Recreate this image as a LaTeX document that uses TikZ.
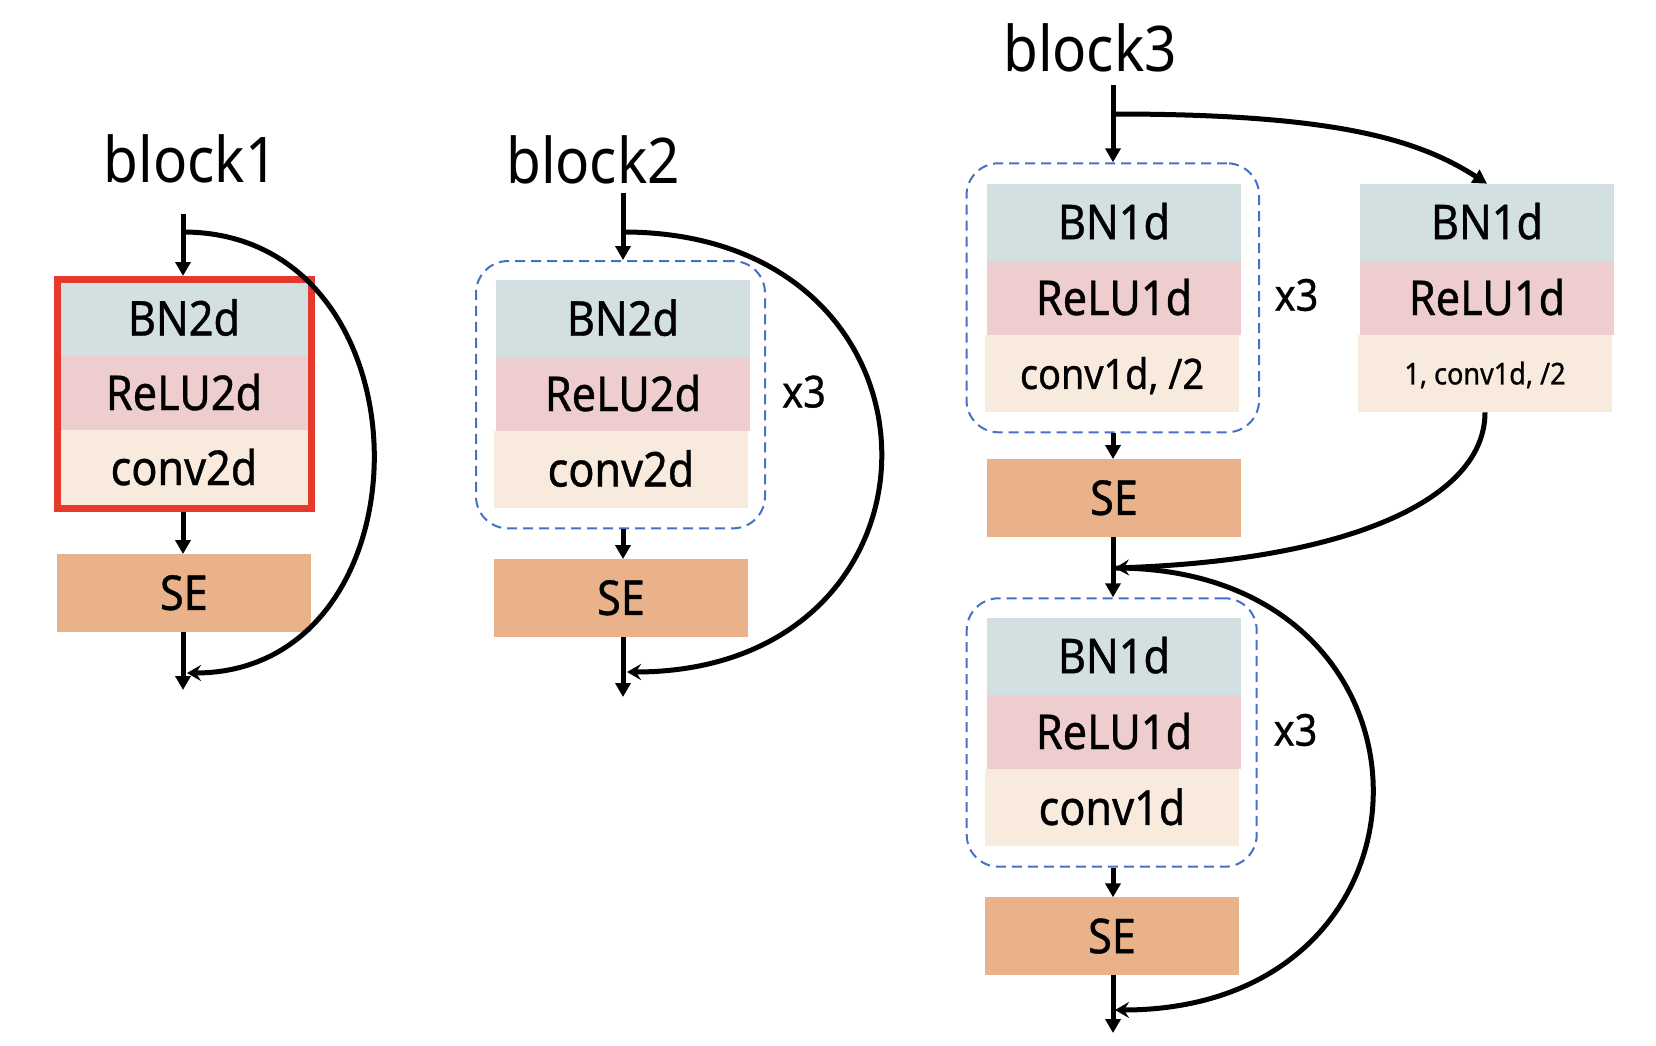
\documentclass[tikz,border=0pt]{standalone}
\usepackage{fontspec}
\setmainfont{Noto Sans}[FakeStretch=0.9]
\newfontfamily\cellfont{Noto Sans}[FakeStretch=0.9,FakeBold=0.8]
\usetikzlibrary{arrows.meta}
\definecolor{bncol}{RGB}{211,224,226}
\definecolor{relucol}{RGB}{237,205,205}
\definecolor{convcol}{RGB}{249,234,222}
\definecolor{secol}{RGB}{234,178,138}
\definecolor{dashblue}{RGB}{68,114,196}
\definecolor{framered}{RGB}{229,57,43}
\tikzset{
  cell/.style={inner sep=0pt, outer sep=0pt, minimum width=254pt, minimum height=77pt,
    font=\cellfont\fontsize{48}{50}\selectfont, text height=34pt, text depth=0pt, align=center},
  bnbox/.style={cell, fill=bncol},
  relubox/.style={cell, fill=relucol, minimum height=74pt},
  convbox/.style={cell, fill=convcol},
  sebox/.style={cell, fill=secol, minimum height=77.7pt},
  grpbox/.style={draw=dashblue, line width=2pt, dash pattern=on 10pt off 6pt, rounded corners=32pt, inner sep=0pt},
  title/.style={font=\fontsize{63}{66}\selectfont, anchor=base, inner sep=0pt},
  rep/.style={font=\cellfont\fontsize{44}{46}\selectfont, inner sep=0pt},
  arr/.style={line width=5pt, -{Triangle[length=14pt,width=15pt]}},
  skiparr/.style={line width=5pt, -{Stealth[length=14pt,width=16pt,inset=5pt]}}
}
\begin{document}
\begin{tikzpicture}[x=1pt,y=-1pt]
\useasboundingbox (0,0) rectangle (1656,1046);

% ---------- block1 ----------
\node[title] (t1) at (190.6,182.7) {block1};
\node[bnbox, minimum height=75pt] (b1bn) at (184,318.5) {BN2d};
\node[relubox] (b1relu) at (184,393) {ReLU2d};
\node[convbox, minimum height=76pt] (b1conv) at (184,468) {conv2d};
\node[draw=framered, line width=7pt, minimum width=254pt, minimum height=229pt, inner sep=0pt] (b1frame) at (184.5,394) {};
\node[sebox, minimum width=253.7pt] (b1se) at (183.9,592.9) {SE};
\coordinate (b1in) at (183,214);
\coordinate (b1out) at (183,690);
\coordinate (b1s) at (183,232);
\coordinate (b1e) at (187,673);
\draw[arr] (b1in) -- (b1in |- b1frame.north);
\draw[arr] (b1in |- b1frame.south) -- (b1in |- b1se.north);
\draw[arr] (b1in |- b1se.south) -- (b1out);
\draw[skiparr] (b1s) .. controls +(253,0) and +(249,0) .. (b1e);

% ---------- block2 ----------
\node[title] (t2) at (593,183) {block2};
\node[bnbox, minimum height=77.3pt] (b2bn) at (623,318.7) {BN2d};
\node[relubox, minimum height=73.4pt] (b2relu) at (623,394) {ReLU2d};
\node[convbox, minimum height=77.6pt] (b2conv) at (621,469.5) {conv2d};
\node[grpbox, minimum width=289pt, minimum height=267.3pt] (b2grp) at (620.5,394.7) {};
\node[rep] (b2x) at (804,391.7) {x3};
\node[sebox] (b2se) at (621,597.9) {SE};
\coordinate (b2in) at (623,193);
\coordinate (b2out) at (623,697);
\coordinate (b2s) at (623,232);
\coordinate (b2e) at (627,672);
\draw[arr] (b2in) -- (b2in |- b2grp.north);
\draw[arr] (b2in |- b2grp.south) -- (b2in |- b2se.north);
\draw[arr] (b2in |- b2se.south) -- (b2out);
\draw[skiparr] (b2s) .. controls +(343,0) and +(339,0) .. (b2e);

% ---------- block3 ----------
\node[title] (t3) at (1090,71.7) {block3};
% upper stage
\node[bnbox] (b3bn) at (1114,222.2) {BN1d};
\node[relubox] (b3relu) at (1114,298) {ReLU1d};
\node[convbox, font=\cellfont\fontsize{42}{44}\selectfont, text height=30pt] (b3conv) at (1112,373.9) {conv1d, /2};
\node[grpbox, minimum width=292.5pt, minimum height=269pt] (b3grp) at (1112.8,297.8) {};
\node[rep] (b3x) at (1296.5,295) {x3};
\node[sebox] (b3se) at (1114,497.9) {SE};
% shortcut branch
\node[bnbox] (rbn) at (1487,222.2) {BN1d};
\node[relubox] (rrelu) at (1487,298) {ReLU1d};
\node[convbox, font=\cellfont\fontsize{30}{32}\selectfont, text height=21pt] (rconv) at (1485,373.9) {1, conv1d, /2};
% lower stage
\node[bnbox] (lbn) at (1114,656.2) {BN1d};
\node[relubox] (lrelu) at (1114,732) {ReLU1d};
\node[convbox] (lconv) at (1112,807.9) {conv1d};
\node[grpbox, minimum width=290pt, minimum height=268.4pt] (lgrp) at (1111.7,732.5) {};
\node[rep] (lx) at (1295.5,730) {x3};
\node[sebox] (lse) at (1112,936.2) {SE};

\coordinate (b3in) at (1113,85);
\coordinate (b3b) at (1113,114);
\coordinate (b3m) at (1115,568);
\coordinate (b3e) at (1115,1010);
\coordinate (b3out) at (1113,1033);
\draw[arr] (b3in) -- (b3in |- b3grp.north);
\draw[arr] (b3in |- b3grp.south) -- (b3in |- b3se.north);
\draw[arr] (b3in |- b3se.south) -- (b3in |- lgrp.north);
\draw[arr] (b3in |- lgrp.south) -- (b3in |- lse.north);
\draw[arr] (b3in |- lse.south) -- (b3out);
\draw[arr] (b3b) .. controls +(220,0) and +(-70,-45) .. (rbn.north);
\draw[skiparr] (rconv.south) .. controls +(0,87) and +(234,-8) .. (b3m);
\draw[skiparr] (b3m) .. controls +(343,0) and +(343,0) .. (b3e);
\end{tikzpicture}
\end{document}
